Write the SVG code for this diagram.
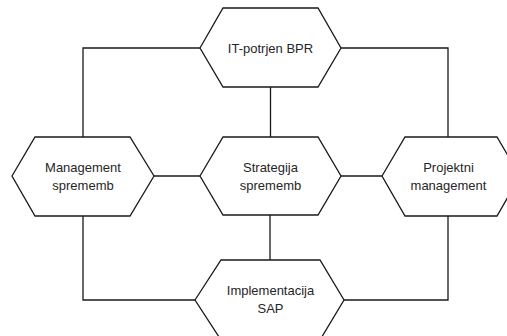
<svg xmlns="http://www.w3.org/2000/svg" width="507" height="336" viewBox="0 0 507 336">
  <style>
    .hex { fill: #ffffff; stroke: #1a1a1a; stroke-width: 1.3; stroke-linejoin: miter; }
    .link { fill: none; stroke: #1a1a1a; stroke-width: 1.3; }
    .label { font-family: "Liberation Sans", Arial, sans-serif; font-size: 13px; fill: #262626; text-anchor: middle; }
  </style>
  <rect width="507" height="336" fill="#ffffff"/>

  <!-- connectors -->
  <g id="connectors">
    <polyline class="link" points="200,48 83,48 83,137"/>
    <polyline class="link" points="341,48 448,48 448,137"/>
    <line class="link" x1="270.5" y1="87" x2="270.5" y2="137"/>
    <line class="link" x1="270" y1="215" x2="270" y2="260"/>
    <line class="link" x1="154" y1="176" x2="200" y2="176"/>
    <line class="link" x1="341" y1="176" x2="382" y2="176"/>
    <polyline class="link" points="83,216 83,300 195,300"/>
    <polyline class="link" points="448,216 448,300 344,300"/>
  </g>

  <g id="it-bpr">
    <polygon class="hex" points="200,48 223,8 318,8 341,48 318,87 223,87"/>
    <text class="label" x="270.5" y="53">IT-potrjen BPR</text>
  </g>

  <g id="management-sprememb">
    <polygon class="hex" points="12,176 35,137 130,137 154,176 130,216 35,216"/>
    <text class="label" x="83" y="172">Management</text>
    <text class="label" x="83" y="190">sprememb</text>
  </g>

  <g id="strategija-sprememb">
    <polygon class="hex" points="200,176 223,137 318,137 341,176 318,215 223,215"/>
    <text class="label" x="270.5" y="172">Strategija</text>
    <text class="label" x="270.5" y="190">sprememb</text>
  </g>

  <g id="projektni-management">
    <polygon class="hex" points="382,176 405,137 497,137 520,176 497,216 405,216"/>
    <text class="label" x="448.5" y="172">Projektni</text>
    <text class="label" x="448.5" y="190">management</text>
  </g>

  <g id="implementacija-sap">
    <polygon class="hex" points="195,300 221,260 320,260 344,300 320,340 221,340"/>
    <text class="label" x="270.5" y="295">Implementacija</text>
    <text class="label" x="270.5" y="313">SAP</text>
  </g>
</svg>
